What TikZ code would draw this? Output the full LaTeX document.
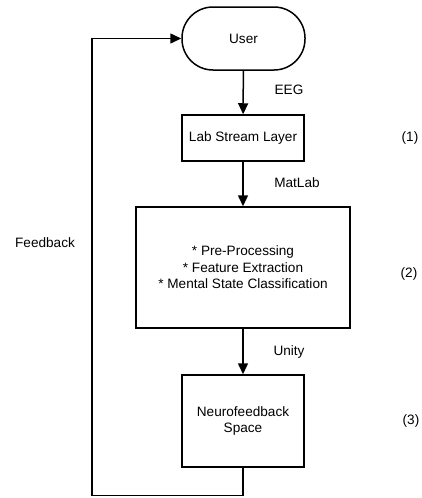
\documentclass[tikz,border=0pt]{standalone}
\usepackage{fontspec}
\setmainfont{Liberation Sans}
\usetikzlibrary{arrows.meta}

\tikzset{
    box/.style={draw, line width=1.5pt, align=center, inner sep=0pt},
    flow/.style={line width=1.5pt, -{Triangle[length=11pt,width=10pt]}},
    every node/.style={font=\fontsize{13.6}{16.5}\selectfont}
}

\begin{document}
\begin{tikzpicture}[x=1pt, y=-1pt]
        \useasboundingbox (0, 0) rectangle (422, 498);

        \node[box, rounded corners=31pt, minimum width=123pt, minimum height=63pt] (user) at (243.5, 38.5) {User};
        \node[box, minimum width=122pt, minimum height=46pt] (lsl) at (243, 138) {Lab Stream Layer};
        \node[box, minimum width=214pt, minimum height=121pt] (proc) at (243, 267.5)
            {* Pre-Processing\\ * Feature Extraction\\ * Mental State Classification};
        \node[box, minimum width=122pt, minimum height=92pt] (neuro) at (243, 421) {Neurofeedback\\ Space};

        \node (eeg) at (289, 90) {EEG};
        \node (matlab) at (297, 183) {MatLab};
        \node (unity) at (289, 352) {Unity};
        \node (feedback) at (45, 243) {Feedback};

        \node (step1) at (410, 138) {(1)};
        \node (step2) at (409, 274) {(2)};
        \node (step3) at (411, 421) {(3)};

        \draw[flow] (user) -- (lsl);
        \draw[flow] (lsl) -- (proc);
        \draw[flow] (proc) -- (neuro);

        % loop back to the user
        \coordinate (corner) at (92, 495.5);
        \draw[flow] (neuro.south) -- (neuro |- corner) -- (corner) |- (user.west);
    \end{tikzpicture}
\end{document}
